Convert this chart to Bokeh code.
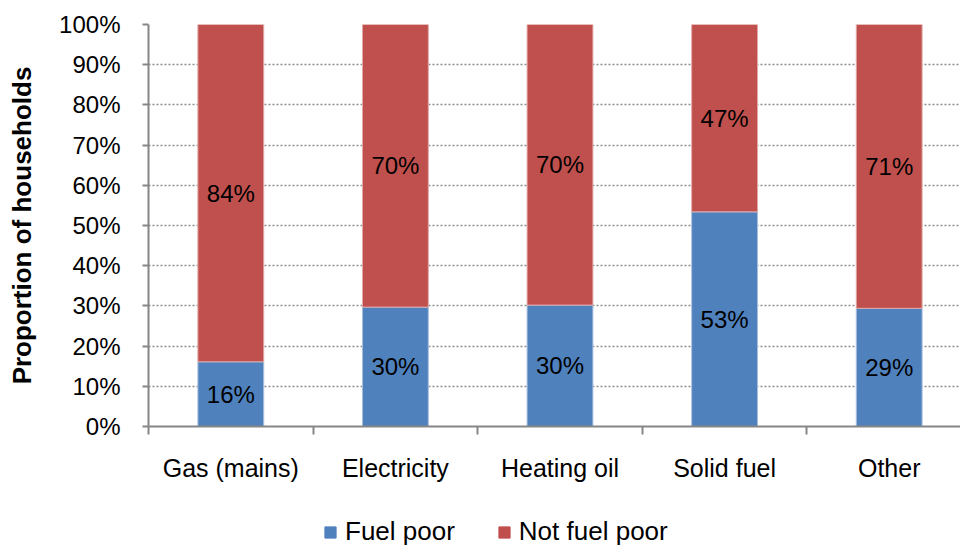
from bokeh.plotting import figure
from bokeh.layouts import column
from bokeh.models import (ColumnDataSource, Range1d, FixedTicker, NumeralTickFormatter,
                          Legend, LegendItem)
from bokeh.core.properties import value
from bokeh.embed import file_html
from bokeh.resources import INLINE

categories = ["Gas (mains)", "Electricity", "Heating oil", "Solid fuel", "Other"]
fuel_poor = [16.1, 29.7, 30.2, 53.4, 29.4]
not_fuel_poor = [83.9, 70.3, 69.8, 46.6, 70.6]
fuel_poor_labels = ["16%", "30%", "30%", "53%", "29%"]
not_fuel_poor_labels = ["84%", "70%", "70%", "47%", "71%"]
series_names = ["Fuel poor", "Not fuel poor"]
y_ticks = [0, 10, 20, 30, 40, 50, 60, 70, 80, 90, 100]

BLUE = "#4F81BD"
RED = "#C0504D"
FONT = "Liberation Sans"

xs = [i + 0.5 for i in range(len(categories))]
fp = [v / 100 for v in fuel_poor]
nfp = [v / 100 for v in not_fuel_poor]
src = ColumnDataSource(dict(
    x=xs, fp=fp, nfp=nfp,
    fp_mid=[v / 2 for v in fp],
    nfp_mid=[a + b / 2 for a, b in zip(fp, nfp)],
    fp_lab=fuel_poor_labels, nfp_lab=not_fuel_poor_labels,
))

p = figure(width=960, height=500, output_backend="svg", toolbar_location=None,
           x_range=Range1d(0, 812 / 164.6), y_range=Range1d(0, 1.0),
           min_border_left=148, min_border_top=24, min_border_right=0,
           min_border_bottom=74)
p.outline_line_color = None
p.background_fill_color = "white"
p.border_fill_color = "white"

renderers = p.vbar_stack(["fp", "nfp"], x="x", width=0.40, source=src,
                         color=[BLUE, RED], line_color=["#a9c1e0", "#e2a9a7"],
                         line_width=1)

p.text(x="x", y="fp_mid", text="fp_lab", source=src, text_align="center",
       text_baseline="middle", text_font=value(FONT), text_font_size="24px",
       text_color="black")
p.text(x="x", y="nfp_mid", text="nfp_lab", source=src, text_align="center",
       text_baseline="middle", text_font=value(FONT), text_font_size="24px",
       text_color="black")

# y axis
yax = p.yaxis[0]
yax.ticker = FixedTicker(ticks=[t / 100 for t in y_ticks])
yax.formatter = NumeralTickFormatter(format="0%")
yax.major_tick_out = 6
yax.major_tick_in = 0
yax.minor_tick_out = 0
yax.minor_tick_in = 0
yax.axis_line_color = "#868686"
yax.axis_line_width = 2
yax.major_tick_line_color = "#868686"
yax.major_tick_line_width = 2
yax.major_label_text_font = FONT
yax.major_label_text_font_size = "24px"
yax.major_label_text_color = "black"
yax.major_label_standoff = 22
yax.axis_label = "Proportion of households"
yax.axis_label_text_font = FONT
yax.axis_label_text_font_style = "bold"
yax.axis_label_text_font_size = "26px"
yax.axis_label_text_color = "black"
yax.axis_label_standoff = 19

# x axis
xax = p.xaxis[0]
xax.ticker = FixedTicker(ticks=xs, minor_ticks=list(range(len(categories) + 1)))
xax.major_label_overrides = {x: c for x, c in zip(xs, categories)}
xax.major_tick_out = 0
xax.major_tick_in = 0
xax.minor_tick_out = 8
xax.minor_tick_in = 0
xax.minor_tick_line_color = "#868686"
xax.minor_tick_line_width = 2
xax.axis_line_color = "#868686"
xax.axis_line_width = 2
xax.major_label_text_font = FONT
xax.major_label_text_font_size = "25px"
xax.major_label_text_color = "black"
xax.major_label_standoff = 19

p.xgrid.grid_line_color = None
p.ygrid.ticker = FixedTicker(ticks=[t / 100 for t in y_ticks[1:]])
p.ygrid.grid_line_color = "#8c8c8c"
p.ygrid.grid_line_dash = "2 2"
p.ygrid.grid_line_width = 1.5

# legend strip below the chart (its swatch glyphs lie outside its visible range)
pl = figure(width=960, height=47, output_backend="svg", toolbar_location=None,
            x_range=Range1d(0, 1), y_range=Range1d(0, 1),
            min_border_left=0, min_border_right=0, min_border_top=0,
            min_border_bottom=0)
pl.axis.visible = False
pl.grid.visible = False
pl.outline_line_color = None
swatch = ColumnDataSource(dict(x=[10.0], top=[1.0]))
lr1 = pl.vbar(x="x", top="top", width=0.1, source=swatch, color=BLUE)
lr2 = pl.vbar(x="x", top="top", width=0.1, source=swatch, color=RED)
legend = Legend(items=[LegendItem(label=series_names[0], renderers=[lr1]),
                       LegendItem(label=series_names[1], renderers=[lr2])],
                orientation="horizontal", location=(175, 0),
                label_text_font=FONT, label_text_font_size="26px",
                label_text_color="black", glyph_width=14, glyph_height=14,
                label_standoff=8, spacing=42, padding=0, margin=0,
                background_fill_alpha=0, border_line_color=None)
pl.add_layout(legend, "center")

open("out.html", "w").write(file_html(column(p, pl, spacing=0), INLINE))
